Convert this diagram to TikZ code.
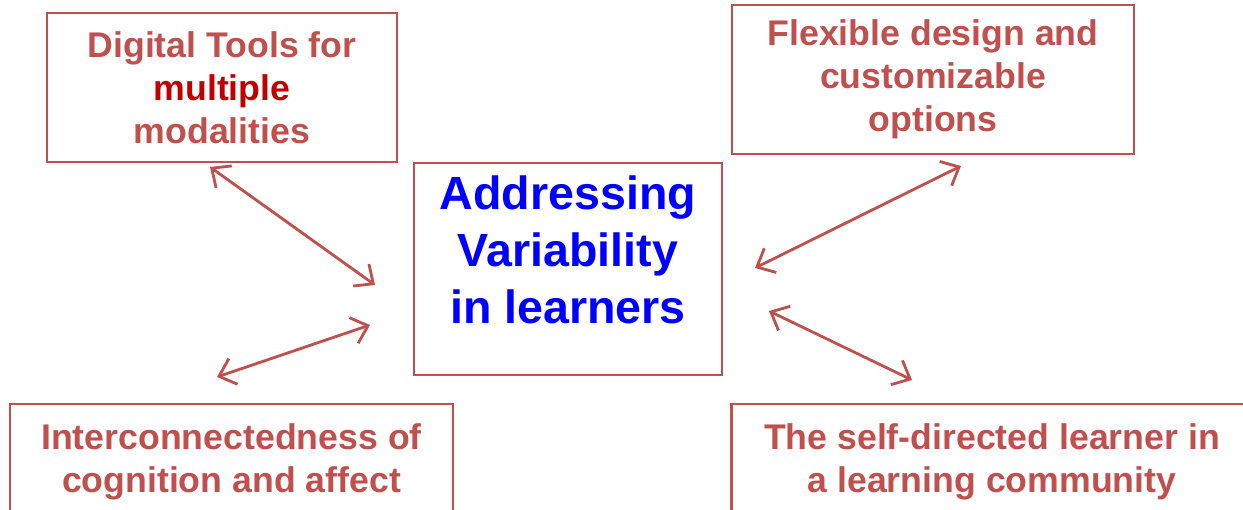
\documentclass[tikz,border=0pt]{standalone}
\usepackage{fontspec}
\setmainfont{Liberation Sans}
\usepackage{tikz}
\usetikzlibrary{arrows.meta}
\definecolor{boxred}{HTML}{C0504D}
\definecolor{darkred}{HTML}{C00000}
\definecolor{ctrblue}{HTML}{0000FF}

\begin{document}
\begin{tikzpicture}[
    idea/.style={draw=boxred, line width=1.4pt, text=boxred, align=center,
        font=\fontsize{20.3}{24.4}\selectfont\bfseries, inner sep=0pt},
    link/.style={draw=boxred, line width=1.6pt,
        {Straight Barb[length=3mm,width=5.4mm]}-{Straight Barb[length=3mm,width=5.4mm]}}
]
    \useasboundingbox (0,0) rectangle (24.86,10.2);
    \clip (0,0) rectangle (24.86,10.2);

    % Outer boxes
    \node[idea, minimum width=7cm, minimum height=2.98cm] (tools) at (4.44,8.45)
        {Digital Tools for\\{\color{darkred}multiple}\\modalities};
    \node[idea, minimum width=8.04cm, minimum height=2.98cm] (design) at (18.66,8.61)
        {Flexible design and\\customizable\\options};
    \node[idea, minimum width=8.86cm, minimum height=2.3cm] (affect) at (4.63,0.97)
        {Interconnectedness of\\cognition and affect};
    \node[idea, minimum width=10.42cm, minimum height=2.3cm] (community) at (19.84,0.97)
        {The self-directed learner in\\a learning community};

    % Centre box
    \node[draw=boxred, line width=1.2pt, minimum width=6.16cm, minimum height=4.24cm] (ctr) at (11.36,4.82) {};
    \node[text=ctrblue, align=center, font=\fontsize{26.5}{32.6}\selectfont\bfseries] (ctrtxt) at (11.36,5.2)
        {Addressing\\Variability\\in learners};

    % Arrow ends
    \coordinate (t1) at (4.2,6.86);
    \coordinate (t2) at (7.5,4.5);
    \coordinate (a1) at (4.34,2.66);
    \coordinate (a2) at (7.4,3.7);
    \coordinate (d1) at (15.1,4.84);
    \coordinate (d2) at (19.22,6.88);
    \coordinate (c1) at (15.38,3.98);
    \coordinate (c2) at (18.24,2.6);

    % Arrows
    \draw[link] (t1) -- (t2);
    \draw[link] (a1) -- (a2);
    \draw[link] (d1) -- (d2);
    \draw[link] (c1) -- (c2);
\end{tikzpicture}
\end{document}
